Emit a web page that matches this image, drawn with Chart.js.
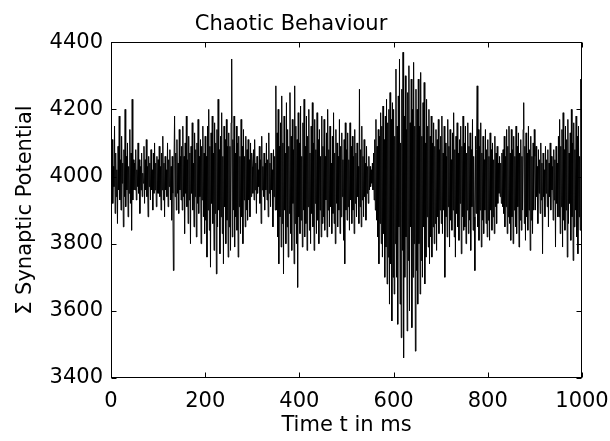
<!DOCTYPE html>
<html><head><meta charset="utf-8">
<script src="https://cdn.jsdelivr.net/npm/chart.js@4/dist/chart.umd.min.js"></script>
<style>html,body{margin:0;padding:0;background:#fff;} canvas{display:block;}</style>
</head><body>
<canvas id="c" width="610" height="441"></canvas>
<script>
const chartTitle = 'Chaotic Behaviour';
const xAxisTitle = 'Time t in ms';
const yAxisTitle = 'Σ Synaptic Potential';
const xTickValues = [0, 200, 400, 600, 800, 1000];
const yTickValues = [3400, 3600, 3800, 4000, 4200, 4400];
const durationMs = 1000;
const potential = [
  // 0-50 ms
  4060, 3950, 4110, 3920, 4030, 3970, 4150, 3890, 4070, 3940, 4020, 3860, 4090, 3960, 4180, 3930, 4050, 3900, 4120, 3980,
  4040, 3850, 4080, 3940, 4200, 3910, 4060, 3960, 4100, 3880, 4030, 3950, 4140, 3920, 4070, 3840, 4230, 3930, 4050, 3960,
  // 50-100
  4040, 3960, 4080, 3930, 4020, 3970, 4100, 3950, 4050, 3890, 4030, 3960, 4070, 3940, 4010, 3980, 4090, 3920, 4050, 3960,
  4110, 3940, 4030, 3880, 4060, 3970, 4040, 3930, 4080, 3960, 4020, 3900, 4070, 3950, 4100, 3960, 4040, 3910, 4060, 3950,
  // 100-150
  4050, 3950, 4090, 3940, 4030, 3900, 4070, 3960, 4120, 3930, 4040, 3880, 4060, 3960, 4020, 3940, 4100, 3910, 4050, 3970,
  4080, 3930, 4030, 3870, 4060, 3950, 3720, 4040, 4180, 3940, 4070, 3900, 4110, 3950, 4040, 3890, 4140, 3960, 4060, 3930,
  // 150-200
  4090, 3900, 4150, 3940, 4060, 3830, 4100, 3950, 4180, 3910, 4050, 3860, 4120, 3930, 4070, 3800, 4090, 3950, 4160, 3900,
  4040, 3850, 4130, 3940, 4080, 3820, 4100, 3920, 4170, 3890, 4060, 3940, 4110, 3800, 4090, 3930, 4150, 3880, 4070, 3830,
  // 200-250
  4120, 3870, 4060, 3760, 4150, 3900, 4200, 3840, 4090, 3730, 4130, 3920, 4180, 3860, 4070, 3780, 4160, 3890, 4100, 3710,
  4140, 3850, 4230, 3900, 4080, 3770, 4120, 3880, 4190, 3830, 4060, 3740, 4150, 3910, 4110, 3800, 4170, 3870, 4090, 3760,
  // 250-300
  4130, 3850, 4090, 3780, 4160, 4350, 3820, 4110, 3900, 4180, 3790, 4070, 3880, 4150, 3840, 4100, 3760, 4120, 3910, 4060,
  3830, 4170, 3880, 4090, 3800, 4140, 3930, 4060, 3850, 4120, 3900, 4080, 3870, 4110, 3930, 4050, 3880, 4100, 3940, 4070,
  // 300-350
  4030, 3950, 4080, 3930, 4110, 3960, 4040, 3890, 4060, 3950, 4020, 3970, 4090, 3920, 4050, 3860, 4120, 3960, 4030, 3940,
  4070, 3900, 4040, 3960, 4100, 3930, 4050, 3880, 4130, 3950, 4040, 3910, 4070, 3960, 4020, 3850, 4080, 3940, 4060, 3900,
  // 350-400
  4270, 3900, 4130, 3820, 4200, 3740, 4090, 3880, 4160, 3790, 4240, 3860, 4100, 3710, 4180, 3900, 4070, 3800, 4220, 3850,
  4140, 3760, 4090, 3890, 4250, 3830, 4120, 3780, 4170, 3920, 4080, 3740, 4270, 3860, 4150, 3800, 4110, 3670, 4190, 3880,
  // 400-450
  4100, 3830, 4210, 3870, 4060, 3790, 4160, 3900, 4230, 3820, 4090, 3860, 4180, 3780, 4120, 3910, 4200, 3840, 4070, 3800,
  4150, 3890, 4220, 3850, 4100, 3780, 4170, 3920, 4080, 3830, 4190, 3870, 4110, 3800, 4140, 3900, 4060, 3820, 4180, 3860,
  // 450-500
  4090, 3880, 4170, 3840, 4060, 3930, 4130, 3820, 4200, 3900, 4080, 3850, 4150, 3910, 4040, 3830, 4120, 3890, 4190, 3860,
  4070, 3800, 4140, 3920, 4100, 3850, 4060, 3900, 4170, 3830, 4090, 3880, 4130, 3940, 4050, 3810, 4110, 3740, 4160, 3900,
  // 500-550
  4080, 3870, 4130, 3910, 4050, 3840, 4160, 3930, 4090, 3860, 4120, 3900, 4060, 3830, 4140, 3920, 4070, 3880, 4100, 3940,
  4030, 3860, 4260, 3910, 4080, 3850, 4150, 3930, 4060, 3880, 4110, 3940, 4040, 3870, 4090, 3950, 4030, 3920, 4060, 3960,
  // 550-600
  4030, 3970, 4020, 3980, 4040, 3960, 4070, 3930, 4110, 3900, 4170, 3870, 4090, 3820, 4140, 3740, 4120, 3860, 4190, 3800,
  4150, 3760, 4210, 3830, 4110, 3700, 4180, 3790, 4230, 3680, 4160, 3760, 4200, 3620, 4250, 3740, 4170, 3570, 4220, 3700,
  // 600-650
  4200, 3650, 4120, 3800, 4320, 3700, 4150, 3560, 4240, 3850, 4350, 3620, 4100, 3520, 4260, 3780, 4370, 3460, 4180, 3700,
  4300, 3820, 4140, 3540, 4250, 3750, 4330, 3600, 4160, 3850, 4290, 3550, 4200, 3700, 4340, 3800, 4150, 3480, 4260, 3720,
  // 650-700
  4200, 3620, 4290, 3800, 4150, 3650, 4310, 3750, 4120, 3700, 4220, 3850, 4280, 3680, 4100, 3760, 4230, 3880, 4150, 3790,
  4200, 3740, 4120, 3820, 4180, 3760, 4100, 3850, 4160, 3800, 4090, 3860, 4140, 3780, 4110, 3880, 4170, 3830, 4080, 3900,
  // 700-750
  4120, 3860, 4180, 3830, 4070, 3900, 4150, 3700, 4100, 3880, 4060, 3820, 4170, 3910, 4090, 3790, 4140, 3870, 4050, 3840,
  4130, 3900, 4190, 3820, 4080, 3760, 4120, 3890, 4160, 3850, 4070, 3810, 4110, 3920, 4150, 3770, 4090, 3880, 4180, 3840,
  // 750-800
  4100, 3850, 4150, 3800, 4070, 3900, 4160, 3830, 4090, 3870, 4130, 3780, 4080, 3910, 4170, 3840, 4060, 3880, 3720, 4120,
  3890, 4080, 4270, 3850, 4140, 3810, 4090, 3900, 4160, 3790, 4070, 3870, 4120, 3830, 4050, 3900, 4140, 3860, 4080, 3820,
  // 800-850
  4110, 3870, 4060, 3810, 4130, 3900, 4080, 3840, 4100, 3880, 4050, 3830, 4120, 3910, 4070, 3860, 4090, 3920, 4040, 3950,
  4060, 3940, 4040, 3920, 4070, 3910, 4080, 3890, 4120, 3850, 4060, 3910, 4140, 3830, 4090, 3880, 4150, 3860, 4070, 3810,
  // 850-900
  4140, 3880, 4080, 3800, 4120, 3900, 4060, 3850, 4150, 3830, 4090, 3910, 4130, 3790, 4070, 3870, 4110, 3840, 4060, 3900,
  4140, 4220, 3860, 4090, 3810, 4130, 3880, 4070, 3840, 4150, 3900, 4080, 3780, 4120, 3870, 4060, 3830, 4100, 3900, 4140,
  // 900-950
  4060, 3900, 4090, 3940, 4030, 3860, 4080, 3950, 4050, 3890, 4100, 3930, 4040, 3770, 4070, 3940, 4020, 3880, 4090, 3950,
  4050, 3910, 4080, 3850, 4040, 3940, 4100, 3900, 4060, 3960, 4030, 3870, 4080, 3930, 4050, 3790, 4090, 3920, 4040, 3880,
  // 950-1000
  4120, 3880, 4170, 3830, 4090, 3910, 4140, 3790, 4190, 3870, 4080, 3840, 4150, 3900, 4110, 3760, 4170, 3860, 4070, 3920,
  4130, 3810, 4200, 3880, 4100, 3750, 4160, 3850, 4080, 3900, 4180, 3820, 4120, 3770, 4150, 3880, 4060, 3840, 4290, 3870, 4050
];
const sampleStepMs = durationMs / (potential.length - 1);
const timeMs = potential.map((_, i) => i * sampleStepMs);

const FONT = "'DejaVu Sans', sans-serif";
Chart.defaults.color = '#000';

const framePlugin = {
  id: 'frame',
  afterDatasetsDraw(chart) {
    const {ctx, chartArea: a, scales: {x, y}} = chart;
    ctx.save();
    ctx.strokeStyle = '#000';
    ctx.lineWidth = 1;
    const l = Math.round(a.left) + 0.5, r = Math.round(a.right) - 0.5;
    const t = Math.round(a.top) + 0.5, b = Math.round(a.bottom) - 0.5;
    ctx.strokeRect(l, t, r - l, b - t);
    const L = 5;
    ctx.beginPath();
    x.ticks.forEach(tk => {
      const px = Math.round(x.getPixelForValue(tk.value)) + 0.5;
      ctx.moveTo(px, b); ctx.lineTo(px, b - L);
      ctx.moveTo(px, t); ctx.lineTo(px, t + L);
    });
    y.ticks.forEach(tk => {
      const py = Math.round(y.getPixelForValue(tk.value)) + 0.5;
      ctx.moveTo(l, py); ctx.lineTo(l + L, py);
      ctx.moveTo(r, py); ctx.lineTo(r - L, py);
    });
    ctx.stroke();
    ctx.restore();
  }
};

new Chart(document.getElementById('c'), {
  type: 'line',
  data: {
    datasets: [{
      data: timeMs.map((t, i) => ({x: t, y: potential[i]})),
      borderColor: '#000',
      borderWidth: 1,
      pointRadius: 0,
      fill: false,
      tension: 0
    }]
  },
  options: {
    responsive: false,
    animation: false,
    devicePixelRatio: 1,
    layout: {padding: {left: 0, right: 28, top: 0, bottom: 0}},
    plugins: {
      legend: {display: false},
      tooltip: {enabled: false},
      title: {
        display: true, text: chartTitle, color: '#000',
        font: {family: FONT, size: 21, weight: 'normal'},
        padding: {top: 12, bottom: 5}
      }
    },
    scales: {
      x: {
        type: 'linear', min: 0, max: 1000,
        afterBuildTicks: s => { s.ticks = xTickValues.map(v => ({value: v})); },
        afterFit: s => { s.height = 63; s.paddingLeft = 0; s.paddingRight = 0; },
        grid: {display: false, drawTicks: false},
        border: {display: false},
        ticks: {color: '#000', font: {family: FONT, size: 21}, padding: 11, maxRotation: 0, autoSkip: false,
                callback: v => String(v)},
        title: {display: true, text: xAxisTitle, color: '#000', font: {family: FONT, size: 21}, padding: {top: 0, bottom: 3}}
      },
      y: {
        type: 'linear', min: 3400, max: 4400,
        afterBuildTicks: s => { s.ticks = yTickValues.map(v => ({value: v})); },
        afterFit: s => { s.width = 111; s.paddingTop = 0; s.paddingBottom = 0; },
        grid: {display: false, drawTicks: false},
        border: {display: false},
        ticks: {color: '#000', font: {family: FONT, size: 21}, padding: 8, autoSkip: false,
                callback: v => String(v)},
        title: {display: true, text: yAxisTitle, color: '#000', font: {family: FONT, size: 21}, padding: {top: 13, bottom: 0}}
      }
    }
  },
  plugins: [framePlugin]
});
</script>
</body></html>
